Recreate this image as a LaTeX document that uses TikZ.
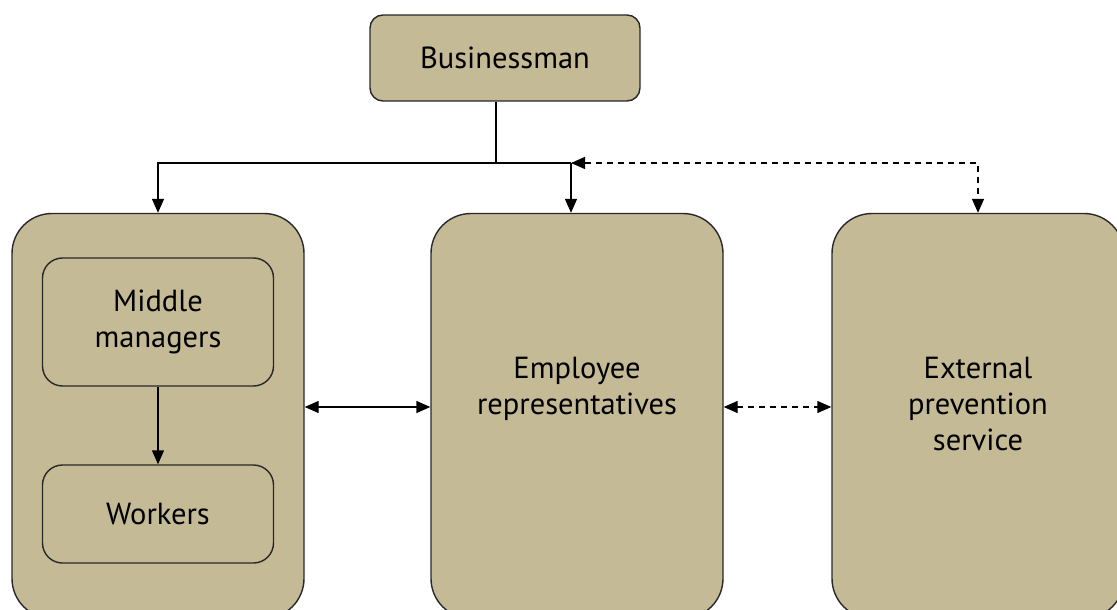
\documentclass[tikz,border=0pt]{standalone}
\usepackage{fontspec}
\setmainfont{PT Sans}
\usetikzlibrary{arrows.meta,positioning}
\definecolor{boxtan}{RGB}{196,186,150}
\definecolor{edge}{RGB}{40,40,40}
\tikzset{
  unit/.style={draw=edge, line width=1.4pt, fill=boxtan, rounded corners=13pt,
    inner sep=0pt, align=center, font=\fontsize{30.5}{36}\selectfont},
  group/.style={unit, rounded corners=40pt, minimum width=292pt, minimum height=405pt},
  txt/.style={inner sep=0pt, align=center, font=\fontsize{30.5}{36}\selectfont},
  link/.style={draw=black, line width=1.4pt, -{Triangle[length=14pt,width=12pt]}},
  both/.style={link, {Triangle[length=14pt,width=12pt]}-{Triangle[length=14pt,width=12pt]}},
  dash6/.style={dash pattern=on 6pt off 5pt},
}
\begin{document}
\begin{tikzpicture}[x=1pt,y=-1pt]
  \useasboundingbox (0,0) rectangle (1117,610);
  \clip (0,0) rectangle (1117,610);
  \path (505,58)  node[unit, minimum width=270pt, minimum height=86pt] (boss) {Businessman}
        (158,416) node[group] (staff) {}
        (577,416) node[group] (reps)  {}
        (978,416) node[group] (ext)   {}
        (158,322) node[unit, rounded corners=20pt, minimum width=231pt, minimum height=128pt] (mid) {Middle\\managers}
        (158,514) node[unit, rounded corners=20pt, minimum width=231pt, minimum height=98pt] (work) {Workers}
        (577,357) node[txt, anchor=north] (repstxt) {Employee\\representatives}
        (978,357) node[txt, anchor=north] (exttxt) {External\\prevention\\service};
  \coordinate (split) at (496,163);
  \coordinate (join) at (571,163);
  \draw[line width=1.4pt] (boss.south -| split) -- (split);
  \draw[link] (join) -| (staff.north);
  \draw[link] (join) -- (join |- reps.north);
  \draw[both, dash6] (join) -| (ext.north);
  \draw[link] (mid) -- (work);
  \draw[both] (staff.east |- 0,407) -- (reps.west |- 0,407);
  \draw[both, dash6] (reps.east |- 0,407) -- (ext.west |- 0,407);
\end{tikzpicture}
\end{document}
